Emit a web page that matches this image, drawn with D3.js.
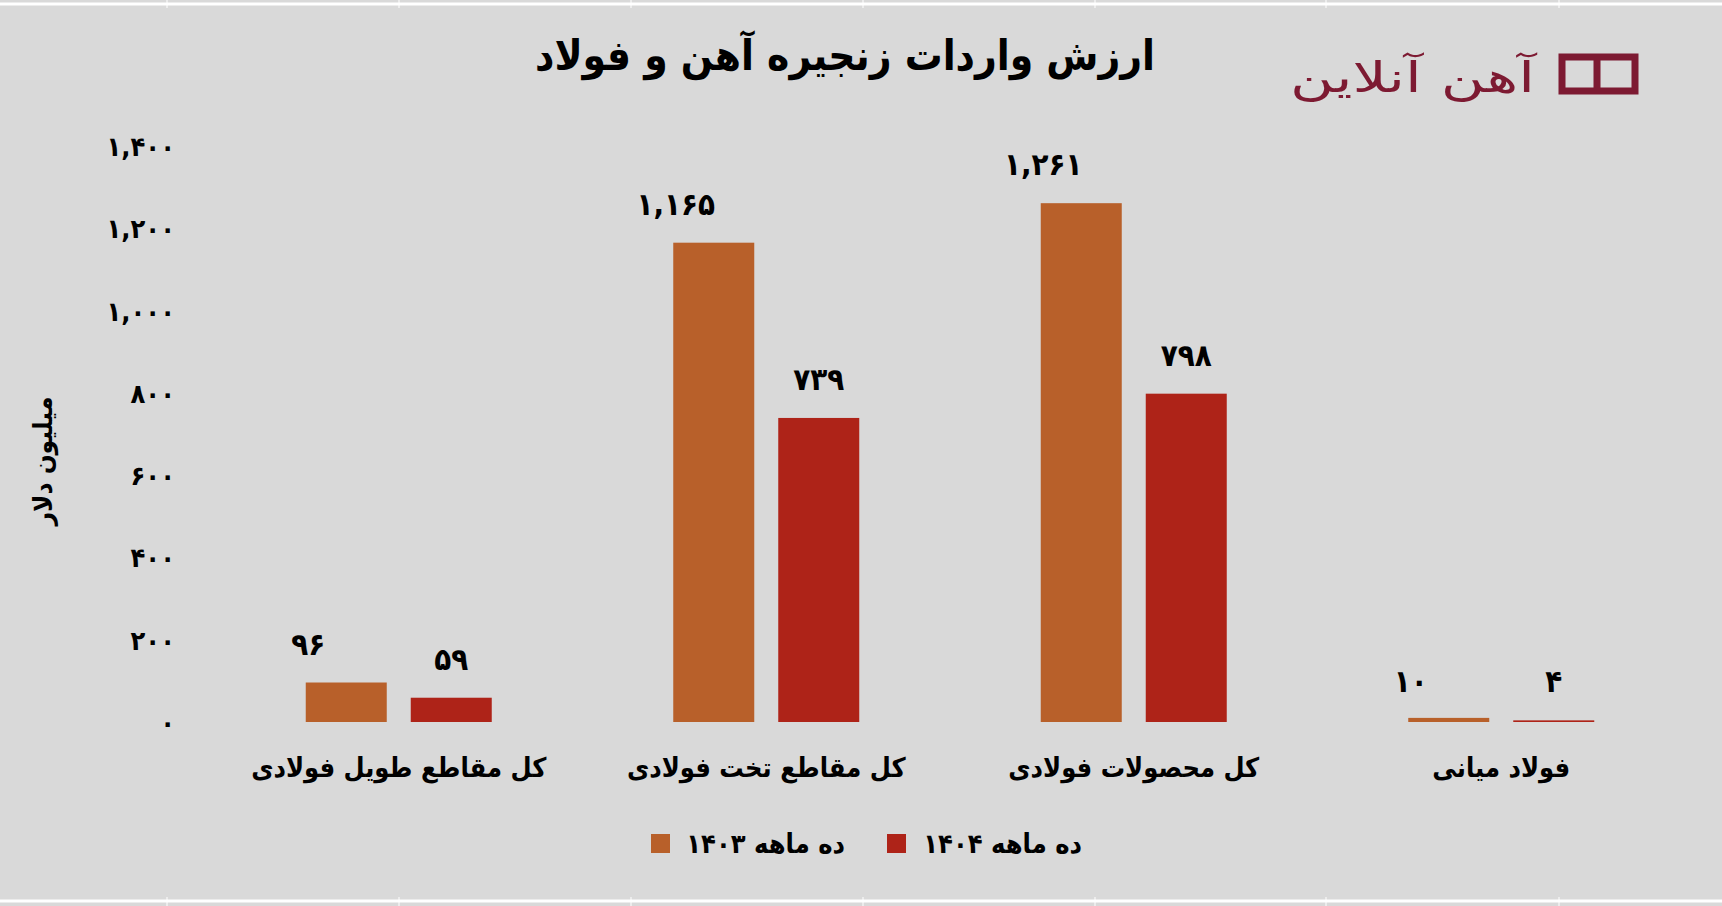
<!DOCTYPE html>
<html><head><meta charset="utf-8">
<script src="https://cdn.jsdelivr.net/npm/d3@7"></script>
<style>body{margin:0;background:#d9d9d9}svg{display:block}text{font-family:"DejaVu Sans Condensed","DejaVu Sans",sans-serif;font-weight:bold;fill:#000}</style>
</head><body><svg id="c" width="1722" height="906"></svg>
<script>
const categories=["کل مقاطع طویل فولادی","کل مقاطع تخت فولادی","کل محصولات فولادی","فولاد میانی"];
const series1403=[96,1165,1261,10];
const series1404=[59,739,798,4];
const seriesNames=["ده ماهه ۱۴۰۳","ده ماهه ۱۴۰۴"];
const yTicks=[0,200,400,600,800,1000,1200,1400];
const colors=["#b8602a","#ae2318"];
const fa=s=>String(s).replace(/\d/g,d=>"۰۱۲۳۴۵۶۷۸۹"[d]);
const fmt=v=>fa(d3.format(",")(v));
const svg=d3.select("#c");
svg.append("rect").attr("width",1722).attr("height",906).attr("fill","#d9d9d9");
svg.append("line").attr("x1",0).attr("x2",1722).attr("y1",4).attr("y2",4).attr("stroke","#fff").attr("stroke-width",3);
svg.append("line").attr("x1",0).attr("x2",1722).attr("y1",901).attr("y2",901).attr("stroke","#fff").attr("stroke-width",3);
[167,399,631,863,1095,1326,1559].forEach(x=>{svg.append("line").attr("x1",x).attr("x2",x).attr("y1",0).attr("y2",8).attr("stroke","#fff");svg.append("line").attr("x1",x).attr("x2",x).attr("y1",897).attr("y2",906).attr("stroke","#fff");});
const x=d3.scaleBand().domain(categories).range([215,1685]).paddingInner(0).paddingOuter(0);
const y=d3.scaleLinear().domain([0,1400]).range([722,146]);
svg.append("text").attr("x",845).attr("y",70).attr("text-anchor","middle").attr("font-size",42).text("ارزش واردات زنجیره آهن و فولاد");
const lg=svg.append("g");
lg.append("text").attr("x",1535).attr("y",92).attr("text-anchor","end").attr("font-size",42).attr("textLength",245).attr("lengthAdjust","spacingAndGlyphs").style("font-weight","normal").style("fill","#7d1a32").text("آهن آنلاین");
lg.append("path").attr("d","M1562 57 h73 v34 h-73 z M1597 57 v34").attr("fill","none").attr("stroke","#7d1a32").attr("stroke-width",7);
const ya=svg.append("g").attr("transform","translate(178,0)").call(d3.axisLeft(y).tickValues(yTicks).tickSize(0).tickFormat(fmt));
ya.select(".domain").remove();
ya.selectAll("text").attr("font-size",27).attr("dy","0.35em").style("font-family","DejaVu Sans Condensed").style("font-weight","bold");
svg.append("text").attr("transform","translate(52,461) rotate(-90)").attr("text-anchor","middle").attr("font-size",26).text("میلیون دلار");
const bw=81,gap=24;
const data=categories.map((c,i)=>({c,v:[series1403[i],series1404[i]]}));
data.forEach(d=>{
  const cx=x(d.c)+x.bandwidth()/2;
  d.v.forEach((v,j)=>{
    const x0=cx+(j===0?-(gap/2+bw):gap/2);
    svg.append("rect").attr("x",x0).attr("y",y(v)).attr("width",bw).attr("height",y(0)-y(v)).attr("fill",colors[j]);
    const ly=d.c==="فولاد میانی"?692:y(v)-28;
    svg.append("text").attr("x",x0+bw/2+(j===0?-38:0)).attr("y",ly).attr("text-anchor","middle").attr("font-size",31).text(fmt(v));
  });
  svg.append("text").attr("x",cx).attr("y",777).attr("text-anchor","middle").attr("font-size",27).text(d.c);
});
[[651,845],[887,1082]].forEach(([sx,tx],j)=>{
  svg.append("rect").attr("x",sx).attr("y",834).attr("width",19).attr("height",19).attr("fill",colors[j]);
  svg.append("text").attr("x",tx).attr("y",853).attr("text-anchor","end").attr("font-size",27).text(seriesNames[j]);
});
</script></body></html>
